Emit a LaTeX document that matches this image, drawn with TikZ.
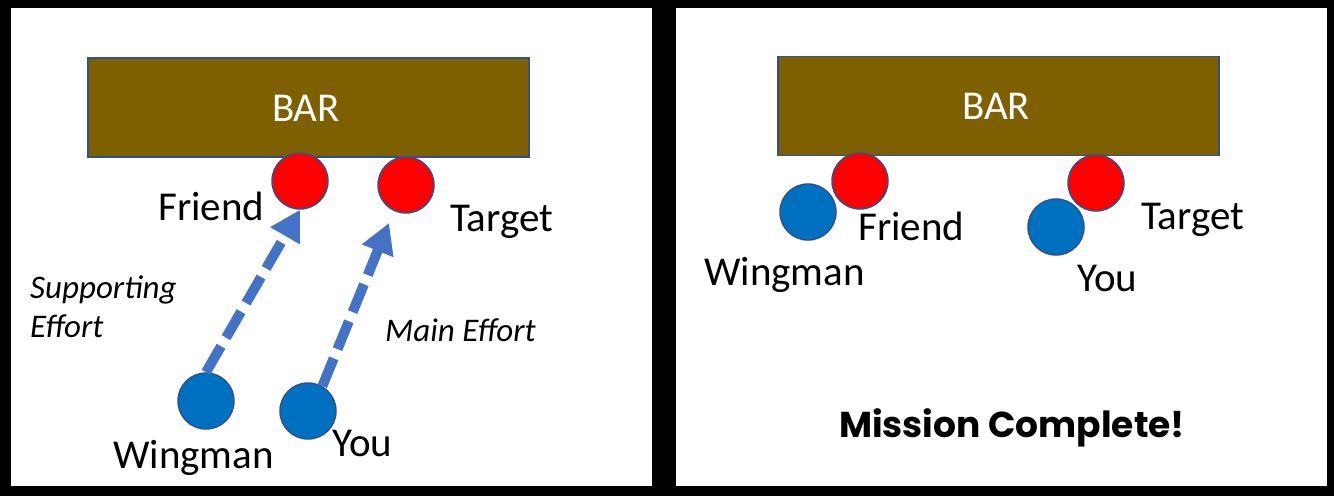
\documentclass[tikz,border=0pt]{standalone}
\usepackage{fontspec}
\setmainfont{Carlito}
\newfontfamily\comicfont{Poppins}
\usepackage{tikz}
\usetikzlibrary{arrows.meta, positioning}
\usepackage{xcolor}
\definecolor{BarBrown}{HTML}{7F6000}
\definecolor{EdgeBlue}{HTML}{2F528F}
\definecolor{TeamBlue}{HTML}{0070C0}
\definecolor{FoeRed}{HTML}{FF0000}
\definecolor{ArrowBlue}{HTML}{4472C4}

\begin{document}
\begin{tikzpicture}[
            x=1pt, y=-1pt,
            font=\fontsize{41}{45}\selectfont,
            bar/.style={
                rectangle, draw=EdgeBlue, line width=1.5pt, fill=BarBrown,
                minimum width=441pt, minimum height=99pt,
                text=white, inner sep=0pt
            },
            person/.style={circle, draw=EdgeBlue, line width=1.5pt, minimum size=56pt, inner sep=0pt},
            friendly/.style={person, fill=TeamBlue},
            hostile/.style={person, fill=FoeRed},
            lbl/.style={inner sep=0pt, anchor=base west},
            effort/.style={inner sep=0pt, anchor=base west, font=\fontsize{33}{39}\selectfont\itshape, align=left},
            move/.style={draw=ArrowBlue, line width=10pt, dash pattern=on 30pt off 10pt,
                -{Triangle[length=30pt, width=32pt]}}
        ]
        
        % --- Panels ---
        \fill[black] (0,0) rectangle (1334,496);
        \fill[white] (11,8) rectangle (652,486);
        \fill[white] (676,8) rectangle (1327,486);
        
        % --- Left panel: the plan ---
        \node[bar] (bar1) at (308.5,107.5) {};
        \node[anchor=base, text=white, inner sep=0pt] (barlbl1) at (306,121) {BAR};
        \node[hostile] (friend1) at (300,181) {};
        \node[hostile] (target1) at (406,185) {};
        \node[friendly] (wing1) at (206,401) {};
        \node[friendly] (you1) at (308,411) {};
        \coordinate (aim1) at (389,223);
        
        \node[lbl] (friendlbl1) at (158,220) {Friend};
        \node[lbl] (targetlbl1) at (450,231) {Target};
        \node[lbl] (winglbl1) at (113,468) {Wingman};
        \node[lbl] (youlbl1) at (332,456) {You};
        \node[effort] (support) at (30,337) {Supporting\\Effort};
        \node[effort] (main) at (385,341) {Main Effort};
        
        \path[move] (wing1.north) -- (friend1.south);
        \path[move] (you1.60) -- (aim1);
        
        % --- Right panel: the outcome ---
        \node[bar] (bar2) at (998.5,106) {};
        \node[anchor=base, text=white, inner sep=0pt] (barlbl2) at (996,119) {BAR};
        \node[friendly] (wing2) at (808,212) {};
        \node[hostile] (friend2) at (860,181) {};
        \node[friendly] (you2) at (1056,227) {};
        \node[hostile] (target2) at (1096,183) {};
        
        \node[lbl] (friendlbl2) at (858,240) {Friend};
        \node[lbl] (targetlbl2) at (1141,229) {Target};
        \node[lbl] (winglbl2) at (704,285) {Wingman};
        \node[lbl] (youlbl2) at (1077,291) {You};
        
        \node[anchor=base, inner sep=0pt, font=\fontsize{36}{40}\comicfont\bfseries] (done) at (1012,437) {Mission Complete!};
        
        \end{tikzpicture}
\end{document}
